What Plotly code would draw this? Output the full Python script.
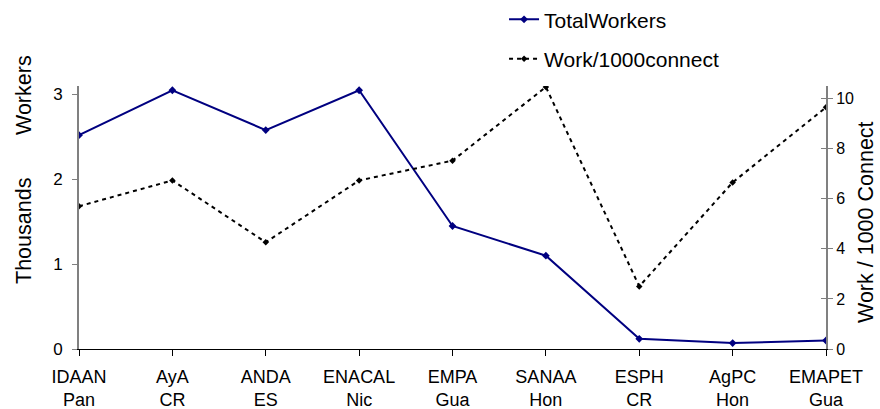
import plotly.graph_objects as go

utilities = ["IDAAN", "AyA", "ANDA", "ENACAL", "EMPA", "SANAA", "ESPH", "AgPC", "EMAPET"]
countries = ["Pan", "CR", "ES", "Nic", "Gua", "Hon", "CR", "Hon", "Gua"]
total_workers_thousands = [2.52, 3.05, 2.58, 3.05, 1.45, 1.10, 0.12, 0.07, 0.10]
work_per_1000_connect = [5.70, 6.73, 4.26, 6.73, 7.52, 10.46, 2.50, 6.65, 9.65]
left_ticks = [0, 1, 2, 3]
right_ticks = [0, 2, 4, 6, 8, 10]

categories = [f"{u}<br>{c}" for u, c in zip(utilities, countries)]
FONT = "Arial, 'Liberation Sans', sans-serif"

fig = go.Figure()
fig.add_trace(go.Scatter(
    x=categories, y=total_workers_thousands, name="TotalWorkers",
    mode="lines+markers", legendgroup="a",
    line=dict(color="#000080", width=2),
    marker=dict(symbol="diamond", size=6, color="#000080"),
    yaxis="y",
))
fig.add_trace(go.Scatter(
    x=categories, y=work_per_1000_connect, name="Work/1000connect",
    mode="lines+markers", legendgroup="b",
    line=dict(color="#000000", width=2, dash="4px,4px"),
    marker=dict(symbol="diamond", size=5, color="#000000"),
    yaxis="y2",
))
# helper axis for the inward half of the right-axis ticks (no data)
fig.add_trace(go.Scatter(x=[categories[0]], y=[None], yaxis="y3",
                         showlegend=False, hoverinfo="skip"))

fig.update_layout(
    width=880, height=409,
    margin=dict(l=79, r=54, t=86, b=60, autoexpand=False),
    paper_bgcolor="white", plot_bgcolor="white",
    font=dict(family=FONT, color="#000000"),
    showlegend=True,
    legend=dict(
        x=0.569, y=1.33, xanchor="left", yanchor="top",
        font=dict(size=21, family=FONT),
        traceorder="grouped", tracegroupgap=9,
        bgcolor="rgba(0,0,0,0)",
    ),
    xaxis=dict(
        type="category", range=[0, 8], automargin=False,
        showline=True, linecolor="#000000", linewidth=1,
        ticks="outside", ticklen=6, tickcolor="#000000",
        tickfont=dict(size=18, family=FONT),
        ticklabelstandoff=5,
        showgrid=False, zeroline=False,
    ),
    yaxis=dict(
        range=[0, 3.1], tickvals=left_ticks, automargin=False,
        showline=True, linecolor="#808080", linewidth=2,
        ticks="outside", ticklen=5, tickcolor="#808080",
        tickfont=dict(size=17, family=FONT),
        ticklabelstandoff=6,
        showgrid=False, zeroline=False,
    ),
    yaxis2=dict(
        range=[0, 10.5], tickvals=right_ticks, automargin=False,
        overlaying="y", side="right", anchor="x",
        showline=True, linecolor="#808080", linewidth=2,
        ticks="outside", ticklen=5, tickcolor="#808080",
        tickfont=dict(size=16, family=FONT),
        ticklabelstandoff=0,
        showgrid=False, zeroline=False,
    ),
    yaxis3=dict(
        range=[0, 10.5], tickvals=right_ticks, automargin=False,
        overlaying="y", side="right", anchor="x",
        showline=False, ticks="inside", ticklen=5, tickcolor="#808080",
        showticklabels=False, showgrid=False, zeroline=False,
    ),
    annotations=[
        dict(text="Workers", xref="paper", yref="paper",
             x=-(79 - 24) / 747, y=(349 - 95) / 263, textangle=-90,
             xanchor="center", yanchor="middle",
             showarrow=False, font=dict(size=21.5, family=FONT)),
        dict(text="Thousands", xref="paper", yref="paper",
             x=-(79 - 24) / 747, y=(349 - 231) / 263, textangle=-90,
             xanchor="center", yanchor="middle",
             showarrow=False, font=dict(size=21.5, family=FONT)),
        dict(text="Work / 1000 Connect", xref="paper", yref="paper",
             x=1 + (866 - 826) / 747, y=(349 - 222) / 263, textangle=-90,
             xanchor="center", yanchor="middle",
             showarrow=False, font=dict(size=21.5, family=FONT)),
    ],
)

fig.write_html("out.html", config={"displayModeBar": False},
               post_script="document.body.style.margin='0px';")
